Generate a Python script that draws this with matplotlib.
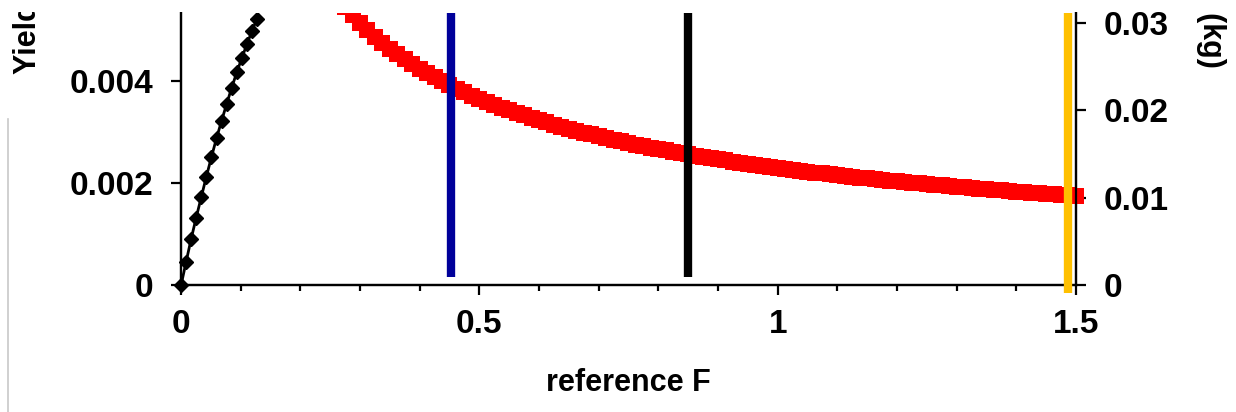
import matplotlib
matplotlib.use('Agg')
import matplotlib.pyplot as plt
import matplotlib.ticker as ticker
from matplotlib.patches import Rectangle
from matplotlib.lines import Line2D

plt.rcParams['font.family'] = ['Liberation Sans', 'DejaVu Sans']
plt.rcParams['font.weight'] = 'bold'

# Yield per recruit (left axis), black diamonds
yield_F = [0, 0.0085, 0.017, 0.0255, 0.034, 0.0425, 0.051, 0.0595, 0.068,
           0.0765, 0.085, 0.0935, 0.102, 0.1105, 0.119, 0.1275]
yield_val = [0, 0.00046, 0.00091, 0.00133, 0.00173, 0.00213, 0.00251, 0.00288,
             0.00322, 0.00355, 0.00387, 0.00417, 0.00445, 0.00472, 0.00498,
             0.00522]

# Biomass per recruit (right axis), red squares
ssb_F = [0.2625, 0.275, 0.2875, 0.30, 0.3125, 0.325, 0.3375, 0.35, 0.3625,
         0.375, 0.3875, 0.40, 0.4125, 0.425, 0.4375, 0.45, 0.4625, 0.475,
         0.4875, 0.50, 0.5125, 0.525, 0.5375, 0.55, 0.5625, 0.575, 0.5875,
         0.60, 0.6125, 0.625, 0.6375, 0.65, 0.6625, 0.675, 0.6875, 0.70,
         0.7125, 0.725, 0.7375, 0.75, 0.7625, 0.775, 0.7875, 0.80, 0.8125,
         0.825, 0.8375, 0.85, 0.8625, 0.875, 0.8875, 0.90, 0.9125, 0.925,
         0.9375, 0.95, 0.9625, 0.975, 0.9875, 1.00, 1.0125, 1.025, 1.0375,
         1.05, 1.0625, 1.075, 1.0875, 1.10, 1.1125, 1.125, 1.1375, 1.15,
         1.1625, 1.175, 1.1875, 1.20, 1.2125, 1.225, 1.2375, 1.25, 1.2625,
         1.275, 1.2875, 1.30, 1.3125, 1.325, 1.3375, 1.35, 1.3625, 1.375,
         1.3875, 1.40, 1.4125, 1.425, 1.4375, 1.45, 1.4625, 1.475, 1.4875,
         1.50]
ssb_val = [0.03280, 0.03178, 0.03087, 0.02999, 0.02920, 0.02843, 0.02774,
           0.02706, 0.02645, 0.02585, 0.02530, 0.02476, 0.02427, 0.02378,
           0.02333, 0.02289, 0.02248, 0.02208, 0.02170, 0.02133, 0.02099,
           0.02065, 0.02033, 0.02002, 0.01973, 0.01944, 0.01916, 0.01889,
           0.01864, 0.01839, 0.01815, 0.01791, 0.01769, 0.01747, 0.01726,
           0.01705, 0.01685, 0.01665, 0.01646, 0.01628, 0.01610, 0.01593,
           0.01576, 0.01560, 0.01544, 0.01528, 0.01513, 0.01498, 0.01483,
           0.01469, 0.01455, 0.01442, 0.01429, 0.01416, 0.01403, 0.01391,
           0.01379, 0.01367, 0.01355, 0.01344, 0.01333, 0.01322, 0.01311,
           0.01301, 0.01291, 0.01281, 0.01271, 0.01261, 0.01252, 0.01243,
           0.01233, 0.01224, 0.01215, 0.01207, 0.01198, 0.01190, 0.01182,
           0.01174, 0.01166, 0.01158, 0.01150, 0.01143, 0.01135, 0.01128,
           0.01121, 0.01114, 0.01107, 0.01100, 0.01093, 0.01087, 0.01080,
           0.01074, 0.01067, 0.01061, 0.01055, 0.01049, 0.01043, 0.01037,
           0.01031, 0.01026]

# reference points (vertical markers, right axis)
ref_F = [0.453, 0.849, 1.487]
ref_lo = [0.001, 0.001, -0.0008]
ref_hi = [0.0312, 0.0312, 0.0312]
ref_colors = ['#00009A', '#000000', '#FFC000']

LEFT_MAX = 0.00533
RIGHT_MAX = 0.03114
FS = 24      # tick labels
FS_T = 22    # axis titles

fig = plt.figure(figsize=(12.36, 4.12), dpi=100)
ax = fig.add_axes([0.14644, 0.30704, 0.72411, 0.66141])
ax2 = ax.twinx()

clip1 = Rectangle((-0.05, -0.06), 1.1, 1.06, transform=ax.transAxes)
blk, = ax.plot(yield_F, yield_val, color='black', linewidth=2, marker='D',
               markersize=7.3, zorder=3)
blk.set_clip_path(clip1)

clip2 = Rectangle((-0.01, -0.04), 1.02, 1.04, transform=ax2.transAxes)
red, = ax2.plot(ssb_F, ssb_val, linestyle='none', marker='s', markersize=11.5,
                markeredgewidth=0, color='#FF0000', zorder=2)
red.set_clip_path(clip2)
for f, lo, hi, c in zip(ref_F, ref_lo, ref_hi, ref_colors):
    ln, = ax2.plot([f, f], [lo, hi], color=c, linewidth=6, solid_capstyle='butt',
                   zorder=4)
    ln.set_clip_path(clip2)

ax.set_xlim(0, 1.5)
ax.set_ylim(0, LEFT_MAX)
ax2.set_ylim(0, RIGHT_MAX)

fmt = ticker.FuncFormatter(lambda v, p: '0' if abs(v) < 1e-12 else f'{v:g}')
ax.xaxis.set_major_locator(ticker.MultipleLocator(0.5))
ax.xaxis.set_minor_locator(ticker.MultipleLocator(0.1))
ax.xaxis.set_major_formatter(fmt)
ax.yaxis.set_major_locator(ticker.MultipleLocator(0.002))
ax.yaxis.set_major_formatter(fmt)
ax2.yaxis.set_major_locator(ticker.MultipleLocator(0.01))
ax2.yaxis.set_major_formatter(fmt)

for a in (ax, ax2):
    for s in a.spines.values():
        s.set_linewidth(1.6)
    a.spines['top'].set_visible(False)
    a.tick_params(which='major', length=7, width=1.6, labelsize=FS, pad=13)
    a.tick_params(which='minor', length=4.5, width=1.6)
ax.tick_params(axis='x', which='major', pad=10)

ax.set_xlabel('reference F', fontsize=FS_T, fontweight='bold', labelpad=20)

# axis titles, cut off by the top of the picture
fig.text(28 / 1236, (412 - 74) / 412, 'Yield per recruit (kg)', rotation=90,
         ha='center', va='bottom', fontsize=FS_T, fontweight='bold')
fig.text(1211 / 1236, (412 - 68) / 412, 'Biomass per recruit (kg)',
         rotation=-90, ha='center', va='bottom', fontsize=FS_T, fontweight='bold')

# the picture is cropped: blank strip at the top
fig.add_artist(Rectangle((0, (412 - 12) / 412), 1, 12 / 412,
                         transform=fig.transFigure, facecolor='white',
                         edgecolor='none', zorder=10))
fig.add_artist(Line2D([8 / 1236, 8 / 1236], [0, (412 - 119) / 412],
                      transform=fig.transFigure, color='#c8c8c8', linewidth=1.2))

fig.savefig('out.png', dpi=100, facecolor='white')
